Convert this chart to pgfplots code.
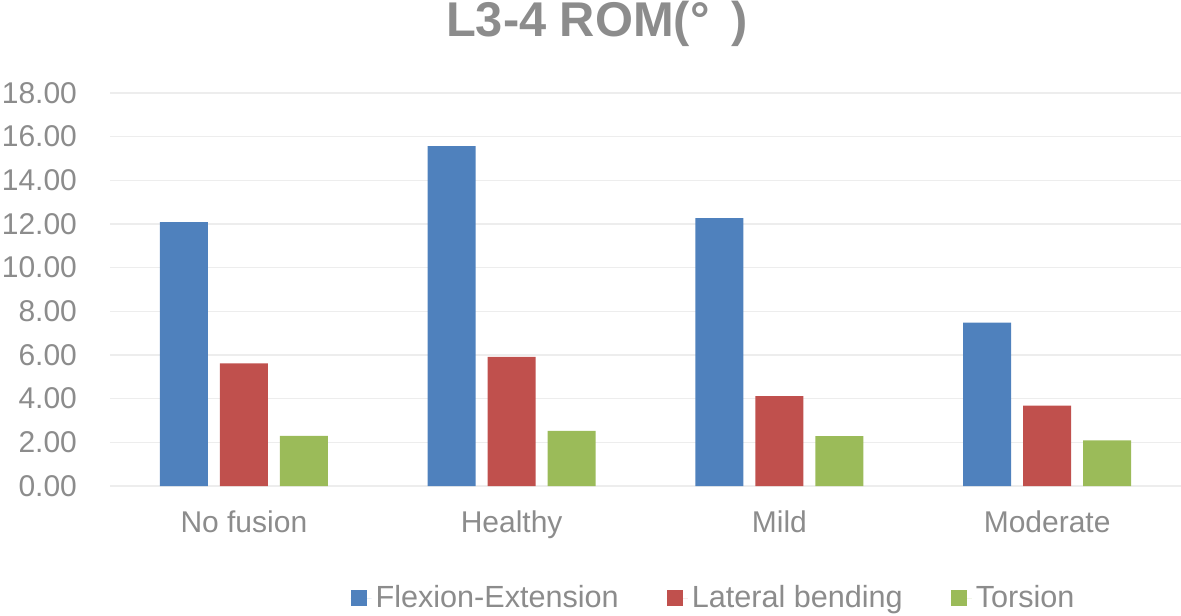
\documentclass[border=0pt]{standalone}
\usepackage{fontspec}
\setmainfont{Liberation Sans}
\usepackage{pgfplots}
\pgfplotsset{compat=1.18}
\definecolor{romBlue}{HTML}{4F81BD}
\definecolor{romRed}{HTML}{C0504D}
\definecolor{romGreen}{HTML}{9BBB59}
\definecolor{romText}{HTML}{8C8C8C}
\definecolor{romGrid}{HTML}{EDEDED}

\begin{document}
\begin{tikzpicture}
\useasboundingbox (0,0) rectangle (590.5pt,307.5pt);
\begin{axis}[
  at={(55pt,64.5pt)}, anchor=south west,
  scale only axis, width=535.5pt, height=196.5pt,
  clip=false,
  ybar=6pt, bar width=24pt,
  xmin=-0.5, xmax=3.5, ymin=0, ymax=18,
  xtick={0,1,2,3},
  xticklabels={No fusion,Healthy,Mild,Moderate},
  ytick={0,2,...,18},
  yticklabel={\pgfmathprintnumber[fixed,fixed zerofill,precision=2]{\tick}},
  /pgf/number format/assume math mode=true,
  ymajorgrids, grid style={color=romGrid, line width=0.8pt},
  axis line style={draw=none}, major tick length=0pt,
  tick label style={font=\fontsize{15}{18}\selectfont, color=romText},
  yticklabel style={anchor=east, xshift=-13pt},
  xticklabel style={anchor=base, yshift=-23pt},
  legend columns=3,
  legend style={at={(0.5644,-0.285)}, anchor=center, draw=none,
    font=\fontsize{15.3}{18}\selectfont, text=romText,
    /tikz/every even column/.append style={column sep=22pt}},
  legend image code/.code={\fill[#1] (0pt,-4pt) rectangle (8pt,4pt);
    \path (0pt,0pt) -- (10.5pt,0pt);},
]
\addplot[fill=romBlue, draw=none] coordinates {(0,12.09) (1,15.57) (2,12.27) (3,7.48)};
\addplot[fill=romRed, draw=none] coordinates {(0,5.62) (1,5.91) (2,4.12) (3,3.68)};
\addplot[fill=romGreen, draw=none] coordinates {(0,2.30) (1,2.52) (2,2.29) (3,2.09)};
\legend{Flexion-Extension, Lateral bending, Torsion}
\node[anchor=base, font=\fontsize{24.4}{28}\selectfont\bfseries, text=romText]
  at (rel axis cs:0.4547,1.145) {L3-4 ROM(°\hspace{11pt})};
\end{axis}
\end{tikzpicture}
\end{document}
